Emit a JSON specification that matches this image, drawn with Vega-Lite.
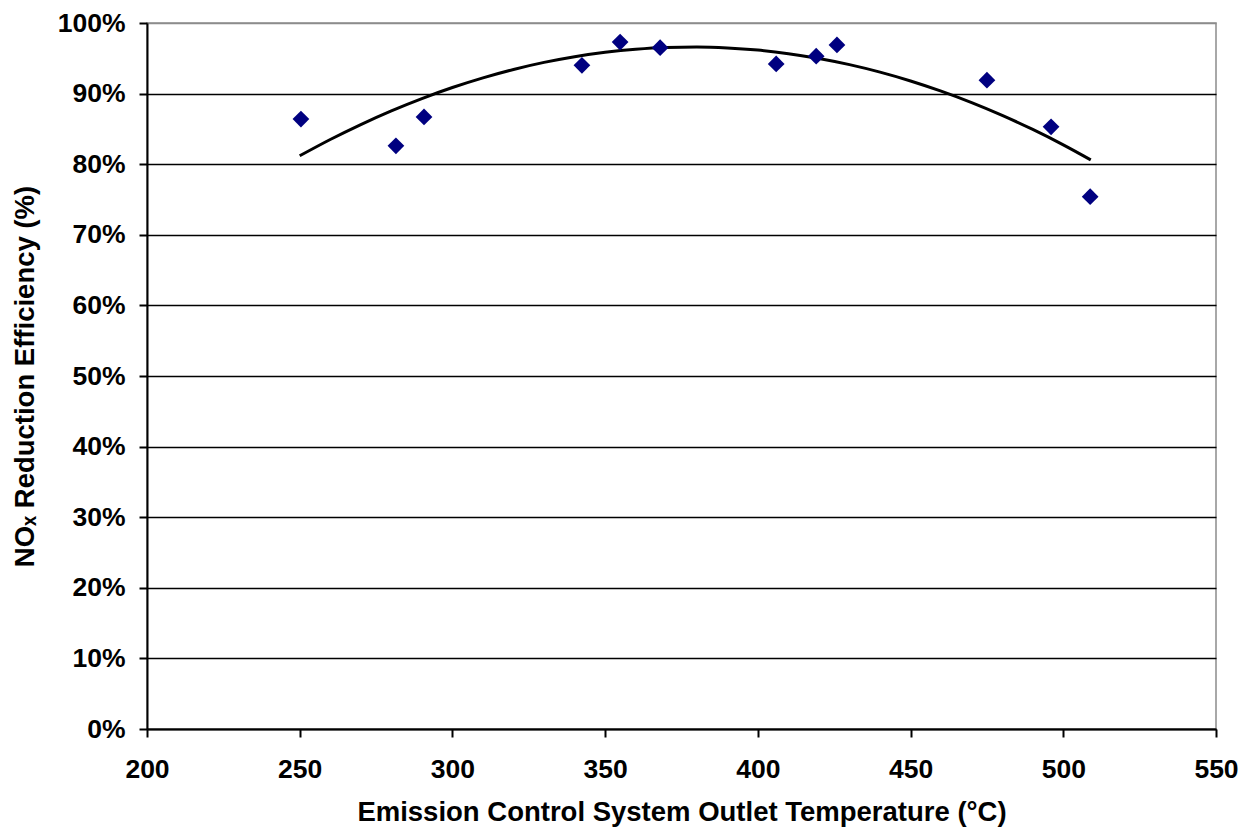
{
  "$schema": "https://vega.github.io/schema/vega-lite/v6.json",
  "autosize": {"type": "none"},
  "width": 1069,
  "height": 706,
  "padding": {"left": 147, "top": 23, "right": 34, "bottom": 102},
  "background": "white",
  "config": {
    "view": {"stroke": "#8c8c8c", "strokeWidth": 1.5},
    "font": "Liberation Sans",
    "axis": {
      "labelFont": "Liberation Sans",
      "labelFontWeight": "bold",
      "labelFontSize": 26.5,
      "labelColor": "black",
      "labelFlush": false,
      "titleFont": "Liberation Sans",
      "titleFontWeight": "bold",
      "titleFontSize": 27.5,
      "titleColor": "black",
      "domainColor": "black",
      "domainWidth": 2,
      "tickColor": "black",
      "tickWidth": 2,
      "tickSize": 8
    }
  },
  "datasets": {
    "points": [
      {"temp": 250.4, "eff": 0.864},
      {"temp": 281.5, "eff": 0.826},
      {"temp": 290.7, "eff": 0.867},
      {"temp": 342.4, "eff": 0.940},
      {"temp": 354.9, "eff": 0.973},
      {"temp": 368.0, "eff": 0.965},
      {"temp": 406.0, "eff": 0.942},
      {"temp": 419.1, "eff": 0.953},
      {"temp": 425.9, "eff": 0.969},
      {"temp": 475.0, "eff": 0.919},
      {"temp": 496.0, "eff": 0.853},
      {"temp": 508.8, "eff": 0.754}
    ],
    "trend": [
      {"temp": 250, "eff": 0.8119},
      {"temp": 260, "eff": 0.8350},
      {"temp": 270, "eff": 0.8562},
      {"temp": 280, "eff": 0.8756},
      {"temp": 290, "eff": 0.8930},
      {"temp": 300, "eff": 0.9086},
      {"temp": 310, "eff": 0.9223},
      {"temp": 320, "eff": 0.9342},
      {"temp": 330, "eff": 0.9442},
      {"temp": 340, "eff": 0.9523},
      {"temp": 350, "eff": 0.9585},
      {"temp": 360, "eff": 0.9629},
      {"temp": 370, "eff": 0.9654},
      {"temp": 380, "eff": 0.9660},
      {"temp": 390, "eff": 0.9647},
      {"temp": 400, "eff": 0.9616},
      {"temp": 410, "eff": 0.9566},
      {"temp": 420, "eff": 0.9497},
      {"temp": 430, "eff": 0.9410},
      {"temp": 440, "eff": 0.9304},
      {"temp": 450, "eff": 0.9179},
      {"temp": 460, "eff": 0.9035},
      {"temp": 470, "eff": 0.8873},
      {"temp": 480, "eff": 0.8692},
      {"temp": 490, "eff": 0.8492},
      {"temp": 500, "eff": 0.8274},
      {"temp": 509, "eff": 0.8061}
    ]
  },
  "layer": [
    {
      "data": {"name": "trend"},
      "mark": {"type": "line", "color": "black", "strokeWidth": 3, "interpolate": "monotone"},
      "encoding": {
        "x": {
          "field": "temp", "type": "quantitative",
          "scale": {"domain": [200, 550], "nice": false, "zero": false},
          "axis": {
            "title": "Emission Control System Outlet Temperature (°C)",
            "values": [200, 250, 300, 350, 400, 450, 500, 550],
            "grid": false,
            "labelPadding": 19,
            "titlePadding": 16
          }
        },
        "y": {
          "field": "eff", "type": "quantitative",
          "scale": {"domain": [0, 1], "nice": false},
          "axis": {
            "title": "NOₓ Reduction Efficiency (%)",
            "format": ".0%",
            "values": [0, 0.1, 0.2, 0.3, 0.4, 0.5, 0.6, 0.7, 0.8, 0.9, 1.0],
            "grid": true,
            "gridColor": {"condition": {"test": "datum.value >= 1", "value": "#8c8c8c"}, "value": "black"},
            "gridWidth": 1.5,
            "labelPadding": 14,
            "titlePadding": 18
          }
        }
      }
    },
    {
      "data": {"name": "points"},
      "mark": {"type": "point", "shape": "diamond", "filled": true, "color": "#000080", "size": 280, "opacity": 1},
      "encoding": {
        "x": {"field": "temp", "type": "quantitative"},
        "y": {"field": "eff", "type": "quantitative"}
      }
    }
  ]
}
